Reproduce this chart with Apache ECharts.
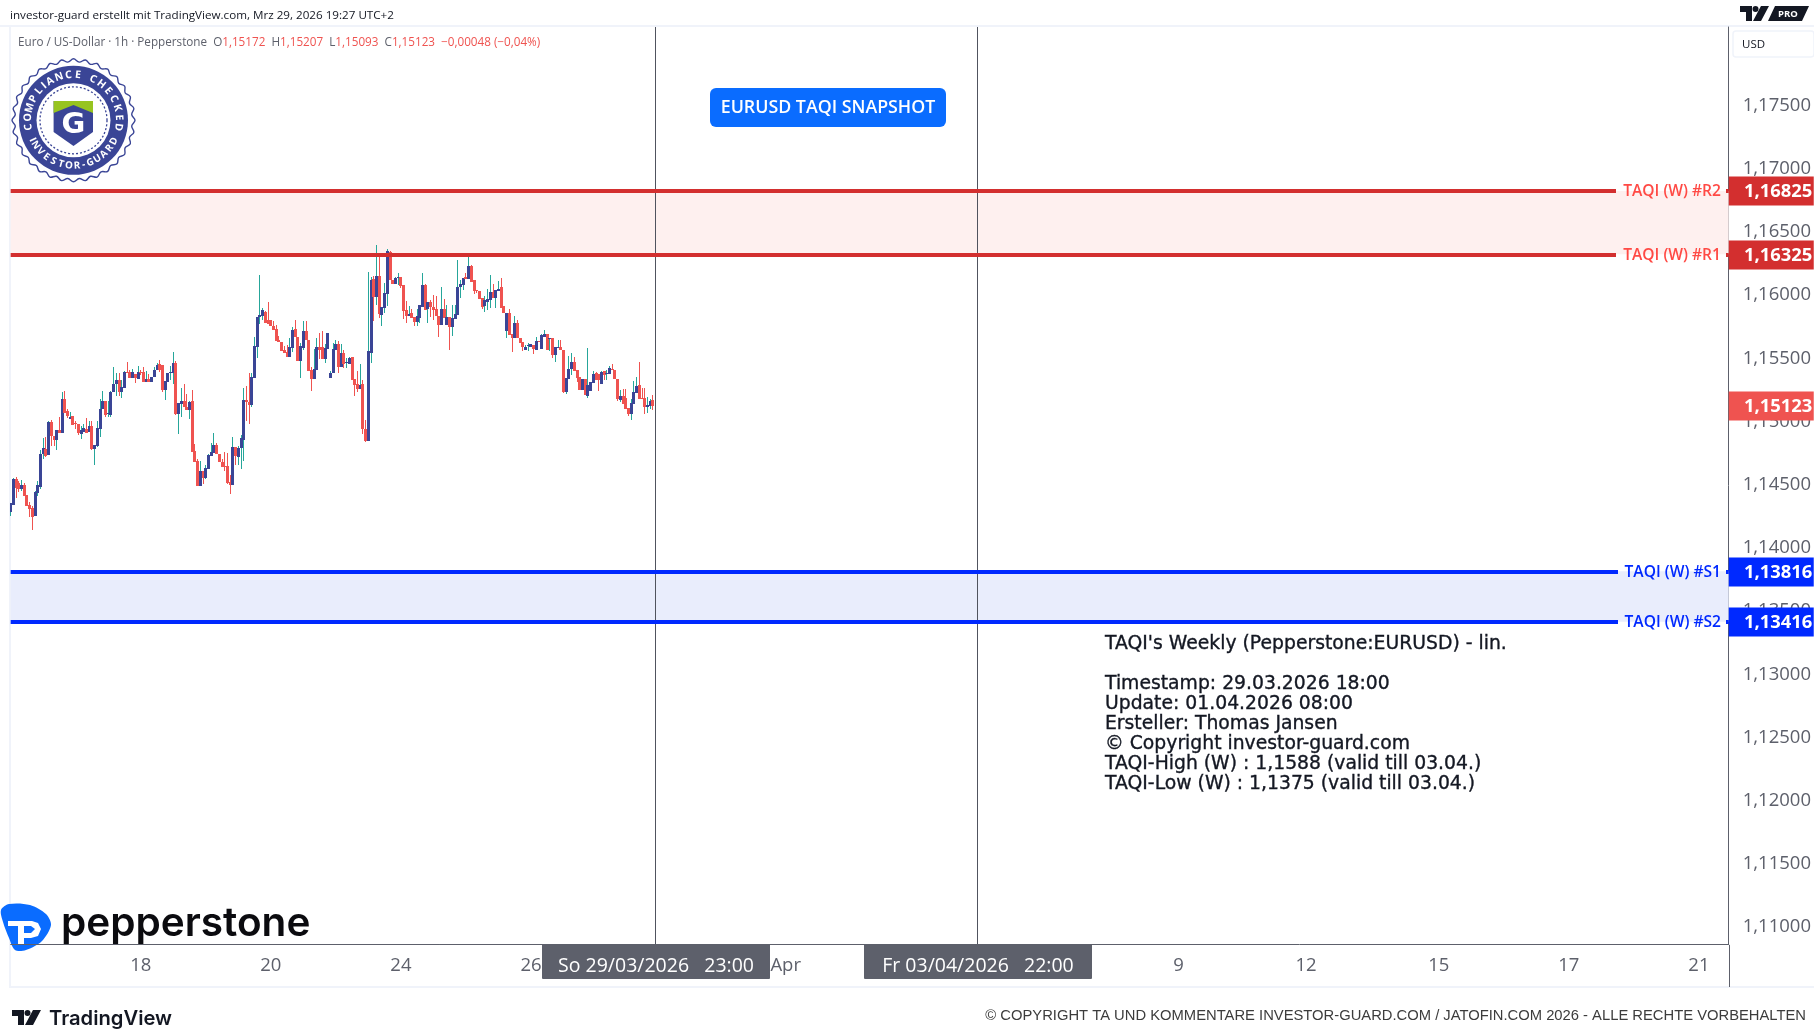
<!DOCTYPE html>
<html>
<head>
<meta charset="UTF-8">
<title>EURUSD TAQI Snapshot</title>
<script src="https://cdn.jsdelivr.net/npm/echarts@6/dist/echarts.min.js"></script>
<style>
	html,body{margin:0;padding:0;background:#fff;}
	#chart{width:1814px;height:1035px;}
</style>
</head>
<body>
<div id="chart"></div>
<script>
// stundenkerzen
var open = [1.14288,1.14343,1.14547,1.14512,1.14467,1.14499,1.14420,1.14341,1.14314,1.14256,1.14438,1.14486,1.14745,1.14784,1.14737,1.14998,1.14887,1.14855,1.14935,1.14913,1.15180,1.15080,1.15024,1.15045,1.14987,1.14979,1.14903,1.14921,1.14942,1.14921,1.14966,1.14784,1.14808,1.14942,1.15101,1.15164,1.15059,1.15053,1.15235,1.15299,1.15330,1.15235,1.15267,1.15394,1.15394,1.15346,1.15378,1.15338,1.15394,1.15394,1.15315,1.15338,1.15315,1.15354,1.15410,1.15457,1.15449,1.15251,1.15317,1.15381,1.15386,1.15465,1.15061,1.15140,1.15162,1.15119,1.15093,1.15164,1.14768,1.14689,1.14491,1.14610,1.14555,1.14623,1.14729,1.14755,1.14816,1.14745,1.14681,1.14650,1.14650,1.14520,1.14499,1.14800,1.14721,1.14792,1.14855,1.15172,1.15156,1.15132,1.15346,1.15592,1.15829,1.15837,1.15871,1.15805,1.15805,1.15758,1.15734,1.15647,1.15631,1.15568,1.15552,1.15513,1.15584,1.15734,1.15671,1.15481,1.15584,1.15718,1.15647,1.15410,1.15338,1.15410,1.15592,1.15592,1.15497,1.15576,1.15346,1.15386,1.15568,1.15616,
	1.15433,1.15544,1.15462,1.15457,1.15513,1.15338,1.15299,1.15259,1.15299,1.14942,1.14848,1.15544,1.16130,1.15988,1.16154,1.15845,1.15900,1.16011,1.16344,1.16122,1.16090,1.16138,1.16146,1.16083,1.15885,1.15837,1.15861,1.15829,1.15790,1.15821,1.15908,1.16083,1.15893,1.15948,1.15908,1.15893,1.15837,1.15766,1.15893,1.15766,1.15829,1.15750,1.15813,1.15845,1.16067,1.16083,1.16146,1.16130,1.16233,1.16122,1.16043,1.16035,1.15980,1.15916,1.15948,1.15964,1.16027,1.15980,1.16035,1.16067,1.15916,1.15718,1.15861,1.15695,1.15663,1.15782,1.15663,1.15631,1.15568,1.15600,1.15592,1.15608,1.15568,1.15639,1.15576,1.15671,1.15695,1.15663,1.15663,1.15528,1.15584,1.15592,1.15568,1.15235,1.15338,1.15418,1.15473,1.15410,1.15354,1.15251,1.15338,1.15204,1.15243,1.15307,1.15386,1.15378,1.15299,1.15402,1.15378,1.15378,1.15418,1.15410,1.15338,1.15172,1.15204,1.15188,1.15109,1.15061,1.15140,1.15228,1.15291,1.15188,1.15188,1.15117,1.15125,1.15172];
var close = [1.14354,1.14547,1.14473,1.14467,1.14499,1.14407,1.14333,1.14306,1.14248,1.14444,1.14499,1.14745,1.14789,1.14731,1.14998,1.14882,1.14855,1.14935,1.14908,1.15180,1.15067,1.15045,1.15040,1.14974,1.14979,1.14908,1.14935,1.14948,1.14913,1.14966,1.14784,1.14816,1.14948,1.15101,1.15164,1.15053,1.15067,1.15235,1.15299,1.15330,1.15235,1.15272,1.15394,1.15389,1.15346,1.15394,1.15344,1.15394,1.15381,1.15315,1.15338,1.15315,1.15354,1.15410,1.15449,1.15410,1.15251,1.15320,1.15386,1.15394,1.15465,1.15061,1.15146,1.15162,1.15114,1.15093,1.15156,1.14760,1.14681,1.14491,1.14610,1.14557,1.14634,1.14737,1.14760,1.14816,1.14742,1.14681,1.14642,1.14644,1.14512,1.14499,1.14800,1.14729,1.14792,1.14871,1.15172,1.15151,1.15132,1.15354,1.15600,1.15829,1.15845,1.15885,1.15784,1.15776,1.15753,1.15726,1.15639,1.15626,1.15560,1.15544,1.15513,1.15592,1.15726,1.15671,1.15478,1.15600,1.15718,1.15647,1.15402,1.15338,1.15418,1.15592,1.15568,1.15497,1.15584,1.15703,1.15386,1.15576,1.15616,1.15433,
	1.15544,1.15457,1.15473,1.15505,1.15330,1.15291,1.15259,1.15291,1.14942,1.14848,1.15560,1.16122,1.15988,1.16154,1.15853,1.15908,1.16019,1.16352,1.16122,1.16090,1.16138,1.16146,1.16075,1.15877,1.15837,1.15853,1.15821,1.15790,1.15837,1.15924,1.16083,1.15885,1.15948,1.15908,1.15885,1.15837,1.15766,1.15893,1.15821,1.15829,1.15750,1.15821,1.15853,1.16067,1.16090,1.16138,1.16127,1.16233,1.16106,1.16035,1.16035,1.15972,1.15906,1.15964,1.15972,1.16027,1.15980,1.16043,1.16051,1.15900,1.15861,1.15861,1.15687,1.15663,1.15782,1.15663,1.15623,1.15592,1.15592,1.15608,1.15616,1.15576,1.15639,1.15631,1.15687,1.15695,1.15568,1.15663,1.15528,1.15592,1.15592,1.15568,1.15235,1.15346,1.15418,1.15473,1.15402,1.15346,1.15251,1.15338,1.15212,1.15291,1.15315,1.15378,1.15330,1.15330,1.15394,1.15370,1.15386,1.15425,1.15410,1.15338,1.15180,1.15204,1.15140,1.15101,1.15061,1.15148,1.15235,1.15283,1.15180,1.15180,1.15117,1.15132,1.15164,1.15123];
var high = [1.14354,1.14552,1.14562,1.14526,1.14539,1.14512,1.14420,1.14367,1.14333,1.14452,1.14526,1.14776,1.14869,1.14877,1.15008,1.15014,1.14887,1.14935,1.15040,1.15233,1.15243,1.15101,1.15077,1.15045,1.15001,1.14979,1.14961,1.14979,1.15032,1.15001,1.15001,1.14816,1.15001,1.15180,1.15243,1.15164,1.15164,1.15243,1.15433,1.15383,1.15383,1.15330,1.15399,1.15473,1.15410,1.15418,1.15378,1.15441,1.15410,1.15433,1.15402,1.15375,1.15354,1.15428,1.15465,1.15489,1.15449,1.15320,1.15386,1.15441,1.15552,1.15481,1.15146,1.15267,1.15299,1.15220,1.15164,1.15251,1.14824,1.14705,1.14689,1.14610,1.14658,1.14745,1.14829,1.14911,1.14829,1.14745,1.14705,1.14760,1.14750,1.14578,1.14879,1.14800,1.14808,1.14895,1.15267,1.15283,1.15383,1.15383,1.15671,1.15829,1.16162,1.15900,1.15877,1.15948,1.15805,1.15798,1.15766,1.15679,1.15631,1.15600,1.15608,1.15663,1.15750,1.15805,1.15671,1.15623,1.15798,1.15798,1.15647,1.15433,1.15576,1.15663,1.15703,1.15718,1.15616,1.15703,1.15402,1.15623,1.15647,1.15639,
	1.15616,1.15568,1.15505,1.15515,1.15513,1.15338,1.15402,1.15457,1.15330,1.15014,1.16185,1.16146,1.16154,1.16399,1.16307,1.15908,1.16098,1.16368,1.16352,1.16122,1.16146,1.16178,1.16146,1.16083,1.15956,1.15916,1.15893,1.15829,1.15893,1.15924,1.16178,1.16090,1.15948,1.15964,1.16003,1.15995,1.15837,1.16067,1.15972,1.15924,1.15829,1.15924,1.15924,1.16280,1.16122,1.16138,1.16178,1.16304,1.16241,1.16122,1.16043,1.16035,1.15980,1.15995,1.16051,1.16162,1.16090,1.16043,1.16114,1.16138,1.15916,1.15861,1.15893,1.15695,1.15837,1.15805,1.15663,1.15631,1.15608,1.15623,1.15616,1.15608,1.15671,1.15639,1.15695,1.15726,1.15695,1.15663,1.15663,1.15592,1.15647,1.15647,1.15568,1.15346,1.15520,1.15544,1.15513,1.15410,1.15354,1.15338,1.15338,1.15584,1.15315,1.15402,1.15394,1.15378,1.15402,1.15402,1.15410,1.15441,1.15457,1.15410,1.15338,1.15251,1.15259,1.15259,1.15109,1.15180,1.15322,1.15354,1.15473,1.15267,1.15267,1.15196,1.15180,1.15207];
var low = [1.14256,1.14343,1.14399,1.14446,1.14452,1.14407,1.14328,1.14241,1.14138,1.14256,1.14407,1.14467,1.14705,1.14723,1.14737,1.14803,1.14803,1.14776,1.14908,1.14913,1.15067,1.15032,1.15024,1.14974,1.14942,1.14890,1.14863,1.14921,1.14913,1.14921,1.14776,1.14658,1.14795,1.14874,1.15101,1.15040,1.15040,1.15040,1.15235,1.15206,1.15204,1.15183,1.15267,1.15389,1.15341,1.15346,1.15309,1.15338,1.15370,1.15315,1.15315,1.15315,1.15315,1.15354,1.15410,1.15396,1.15233,1.15172,1.15317,1.15330,1.15299,1.15053,1.14903,1.15040,1.15114,1.15093,1.15022,1.14760,1.14681,1.14491,1.14491,1.14507,1.14547,1.14623,1.14729,1.14755,1.14742,1.14681,1.14642,1.14610,1.14507,1.14428,1.14499,1.14658,1.14658,1.14626,1.14689,1.15006,1.14982,1.15119,1.15346,1.15505,1.15774,1.15805,1.15784,1.15776,1.15753,1.15726,1.15639,1.15626,1.15560,1.15544,1.15513,1.15513,1.15552,1.15671,1.15478,1.15346,1.15568,1.15647,1.15402,1.15243,1.15338,1.15410,1.15497,1.15497,1.15465,1.15576,1.15346,1.15386,1.15568,1.15386,
	1.15433,1.15425,1.15425,1.15457,1.15330,1.15204,1.15235,1.15259,1.14903,1.14840,1.14848,1.15465,1.15798,1.15924,1.15821,1.15758,1.15861,1.15916,1.16122,1.16090,1.16090,1.16083,1.16059,1.15813,1.15782,1.15837,1.15821,1.15758,1.15758,1.15782,1.15908,1.15885,1.15782,1.15829,1.15805,1.15837,1.15671,1.15766,1.15821,1.15766,1.15568,1.15679,1.15813,1.15845,1.15980,1.16043,1.16127,1.16130,1.16106,1.16011,1.16017,1.15972,1.15893,1.15869,1.15885,1.15900,1.15980,1.15900,1.16035,1.15900,1.15861,1.15663,1.15687,1.15552,1.15663,1.15663,1.15623,1.15560,1.15568,1.15560,1.15592,1.15536,1.15568,1.15631,1.15576,1.15671,1.15568,1.15560,1.15505,1.15473,1.15584,1.15568,1.15228,1.15220,1.15338,1.15370,1.15402,1.15315,1.15251,1.15251,1.15212,1.15188,1.15243,1.15307,1.15330,1.15243,1.15299,1.15330,1.15330,1.15378,1.15410,1.15338,1.15164,1.15156,1.15140,1.15101,1.15045,1.15014,1.15140,1.15228,1.15180,1.15180,1.15061,1.15069,1.15101,1.15093];

var levelNames = ['TAQI (W) #R2','TAQI (W) #R1','TAQI (W) #S1','TAQI (W) #S2'];
var levelValues = [1.16825,1.16325,1.13816,1.13416];
var priceTicks = [1.11,1.115,1.12,1.125,1.13,1.135,1.14,1.145,1.15,1.155,1.16,1.165,1.17,1.175];
var timeTickBars = [48,96,144,192,286,431,478,527,575,623];
var timeTickLabels = ['18','20','24','26','Apr','9','12','15','17','21'];
var markerBars = [238,357];
var markerLabels = ['So 29/03/2026   23:00','Fr 03/04/2026   22:00'];
var lastPrice = 1.15123;

var NAVY = '#3a4596', RED = '#ef5350', TEAL = '#26a69a';
var LEVEL_RED = '#d32f2f', LABEL_RED = '#ff4a45', LEVEL_BLUE = '#0029ff';
var AXIS_GREY = '#5d606b', TEXT_GREY = '#5d606b';
var FONT = '"Open Sans", sans-serif';

function fmt(v){
	return v.toFixed(5).replace('.',',');
}

var candleData = open.map(function(o,i){ return [i,o,close[i],low[i],high[i]]; });
var levelData = levelValues.map(function(v,i){ return [0,v,i]; });
var markerData = markerBars.map(function(b,i){ return [b,i]; });

function renderCandle(params,api){
	var i = api.value(0), o = api.value(1), c = api.value(2), l = api.value(3), h = api.value(4);
	var cx = api.coord([i,o])[0];
	var yO = Math.round(api.coord([i,o])[1]), yC = Math.round(api.coord([i,c])[1]);
	var yL = Math.round(api.coord([i,l])[1]), yH = Math.round(api.coord([i,h])[1]);
	var up = c >= o;
	var x0 = Math.round(cx-1.5);
	return {type:'group',children:[
		{type:'rect',shape:{x:Math.floor(cx),y:yH,width:1,height:Math.max(1,yL-yH)},style:{fill:up?TEAL:RED}},
		{type:'rect',shape:{x:x0,y:Math.min(yO,yC),width:3,height:Math.max(1,Math.abs(yC-yO))},style:{fill:up?NAVY:RED}}
	]};
}

function renderZone(params,api){
	var idx = api.value(2);
	if(idx%2) return null;
	var cs = params.coordSys;
	var y0 = api.coord([0,levelValues[idx]])[1], y1 = api.coord([0,levelValues[idx+1]])[1];
	return {type:'rect',shape:{x:cs.x,y:y0,width:cs.width,height:y1-y0},style:{fill:idx==0?'#fef0ef':'#e9edfc'}};
}

function renderLevel(params,api){
	var idx = api.value(2), cs = params.coordSys;
	var isRed = idx<2;
	var col = isRed?LEVEL_RED:LEVEL_BLUE;
	var y = Math.round(api.coord([0,api.value(1)])[1]+0.45);
	var right = cs.x+cs.width;
	return {type:'group',children:[
		{type:'rect',shape:{x:cs.x,y:y-2,width:(isRed?1616:1618)-cs.x,height:4},style:{fill:col}},
		{type:'rect',shape:{x:1726,y:y-2,width:right-1726,height:4},style:{fill:col}},
		{type:'text',x:1721,y:y+1,style:{text:levelNames[idx],fill:isRed?LABEL_RED:LEVEL_BLUE,font:'600 15.6px '+FONT,textAlign:'right',textVerticalAlign:'middle'}},
		{type:'rect',shape:{x:right,y:y-14.5,width:85,height:29},style:{fill:col}},
		{type:'text',x:1744,y:y+1,style:{text:fmt(api.value(1)),fill:'#fff',font:'700 18.4px '+FONT,textVerticalAlign:'middle'}}
	]};
}

function renderMarker(params,api){
	var x = Math.round(api.coord([api.value(0),1.15])[0]), cs = params.coordSys;
	var bottom = cs.y+cs.height;
	return {type:'group',children:[
		{type:'rect',shape:{x:x-1,y:cs.y,width:1,height:cs.height},style:{fill:'#50535e'}},
		{type:'rect',shape:{x:x-114,y:bottom,width:228,height:35,r:1},style:{fill:'#5d606b'}},
		{type:'text',x:x,y:bottom+22,style:{text:markerLabels[api.value(1)],fill:'#fff',font:'500 19.5px '+FONT,textAlign:'center',textVerticalAlign:'middle'}}
	]};
}

function renderLast(params,api){
	var cs = params.coordSys, y = Math.round(api.coord([0,lastPrice])[1]+0.45);
	return {type:'group',children:[
		{type:'rect',shape:{x:cs.x+cs.width,y:y-14.5,width:85,height:29},style:{fill:RED}},
		{type:'text',x:1744,y:y+1,style:{text:fmt(lastPrice),fill:'#fff',font:'700 18.4px '+FONT,textVerticalAlign:'middle'}}
	]};
}

// siegel oben links
function arcText(str,cx,cy,r,step,fontSize,bottom){
	var weights = [], total = 0, els = [], run = 0;
	for(var i=0;i<str.length;i++){
		var w = str[i]=='I' ? 0.55 : (str[i]==' ' ? 0.6 : (str[i]=='-' ? 0.7 : 1));
		weights.push(w);
		total += w;
	}
	for(var j=0;j<str.length;j++){
		var d = (run+weights[j]/2-total/2)*step*Math.PI/180;
		run += weights[j];
		els.push({
			type:'text',
			x:cx+r*Math.sin(d),
			y:bottom ? cy+r*Math.cos(d) : cy-r*Math.cos(d),
			rotation:bottom ? d : -d,
			style:{text:str[j],fill:'#fff',font:'bold '+fontSize+'px "Open Sans"',textAlign:'center',textVerticalAlign:'middle'}
		});
	}
	return els;
}

function sealElements(){
	var cx = 73.5, cy = 120.3, els = [], pts = [], n = 64;
	for(var i=0;i<n;i++){
		var a = i/n*Math.PI*2, r = i%2 ? 58.5 : 61.5;
		pts.push([cx+r*Math.sin(a),cy-r*Math.cos(a)]);
	}
	els.push({type:'polygon',shape:{points:pts,smooth:0.4},style:{fill:'#fff',stroke:NAVY,lineWidth:1.4}});
	els.push({type:'circle',shape:{cx:cx,cy:cy,r:54.5},style:{fill:NAVY}});
	els.push({type:'circle',shape:{cx:cx,cy:cy,r:37},style:{fill:'#fff'}});
	els.push({type:'circle',shape:{cx:cx,cy:cy,r:33.5},style:{fill:'none',stroke:NAVY,lineWidth:1.3,lineDash:[2,2]}});
	els.push({type:'polygon',shape:{points:[[53.6,101],[93,101],[93,132],[73.5,146],[53.6,132]]},style:{fill:NAVY}});
	els.push({type:'polygon',shape:{points:[[53.6,101],[93,101],[93,113],[73.5,105],[53.6,113]]},style:{fill:'#97c41f'}});
	els.push({type:'text',x:cx,y:125,style:{text:'G',fill:'#fff',font:'bold 29px "DejaVu Sans"',textAlign:'center',textVerticalAlign:'middle'}});
	return els.concat(arcText('COMPLIANCE CHECKED',cx,cy,45.5,12.2,10.5,false),arcText('INVESTOR-GUARD',cx,cy,45.5,10.2,9.8,true));
}

function tvMark(x,y,k){
	return [
		{type:'polygon',shape:{points:[[x,y],[x+12*k,y],[x+12*k,y+15*k],[x+6*k,y+15*k],[x+6*k,y+6*k],[x,y+6*k]]},style:{fill:'#131722'}},
		{type:'circle',shape:{cx:x+15.5*k,cy:y+3*k,r:3*k},style:{fill:'#131722'}},
		{type:'polygon',shape:{points:[[x+21*k,y],[x+29*k,y],[x+21*k,y+15*k],[x+13*k,y+15*k]]},style:{fill:'#131722'}}
	];
}

var graphics = [
	{type:'rect',shape:{x:0,y:25,width:1814,height:2},style:{fill:'#f0f3fa'}},
	{type:'rect',shape:{x:9,y:25,width:2,height:962},style:{fill:'#f0f3fa'}},
	{type:'rect',shape:{x:9,y:986,width:1805,height:2},style:{fill:'#f0f3fa'}},
	{type:'rect',shape:{x:1729,y:945,width:1,height:42},style:{fill:AXIS_GREY}},
	{type:'text',x:10,y:16,style:{text:'investor-guard erstellt mit TradingView.com, Mrz 29, 2026 19:27 UTC+2',fill:'#131722',font:'11.65px '+FONT,textVerticalAlign:'middle'}},
	{type:'text',x:18,y:43,style:{
		text:'{g|Euro / US-Dollar · 1h · Pepperstone  O}{r|1,15172}{g|  H}{r|1,15207}{g|  L}{r|1,15093}{g|  C}{r|1,15123}{r|  −0,00048 (−0,04%)}',
		font:'11.7px '+FONT,textVerticalAlign:'middle',
		rich:{g:{fill:'#5d606b',font:'11.7px '+FONT},r:{fill:RED,font:'11.7px '+FONT}}
	}},
	{type:'rect',shape:{x:710,y:88,width:236,height:39,r:6},style:{fill:'#0a6cff'}},
	{type:'text',x:828,y:108,style:{text:'EURUSD TAQI SNAPSHOT',fill:'#fff',font:'600 17.8px '+FONT,textAlign:'center',textVerticalAlign:'middle'}},
	{type:'rect',shape:{x:1733,y:31,width:81,height:26,r:3},style:{fill:'#fff',stroke:'#f0f3fa',lineWidth:1.5}},
	{type:'text',x:1742,y:45,style:{text:'USD',fill:'#131722',font:'11.5px '+FONT,textVerticalAlign:'middle'}},
	{type:'polygon',shape:{points:[[1775,6],[1809,6],[1802,21],[1768,21]]},style:{fill:'#131722'}},
	{type:'text',x:1788,y:14,style:{text:'PRO',fill:'#fff',font:'bold 9.5px '+FONT,textAlign:'center',textVerticalAlign:'middle'}},
	{type:'text',x:1105,y:714,style:{
		text:"TAQI's Weekly (Pepperstone:EURUSD) - lin.\n\nTimestamp: 29.03.2026 18:00\nUpdate: 01.04.2026 08:00\nErsteller: Thomas Jansen\n© Copyright investor-guard.com\nTAQI-High (W) : 1,1588 (valid till 03.04.)\nTAQI-Low (W) : 1,1375 (valid till 03.04.)",
		fill:'#131722',stroke:'#131722',lineWidth:0.35,font:'18.8px "DejaVu Sans"',lineHeight:20,textVerticalAlign:'middle'
	}},
	// pepperstone
	{type:'polygon',shape:{points:[[1,910],[9,904],[30,905],[46,914],[51,925],[42,941],[26,950],[15,950],[9,938],[3,922]],smooth:0.3},style:{fill:'#0a6cff'}},
	{type:'polygon',shape:{points:[[8,921],[32,921],[38,923],[41,929],[38,936],[31,938],[24,938],[24,944],[18,944],[18,926],[8,926]]},style:{fill:'#fff'}},
	{type:'polygon',shape:{points:[[24,926],[31,926],[35,929],[31,933],[24,933]]},style:{fill:'#0a6cff'}},
	{type:'text',x:61,y:924,style:{text:'pepperstone',fill:'#0b0b0f',font:'600 40.5px Inter',textVerticalAlign:'middle'}},
	// fusszeile
	{type:'text',x:49,y:1019,style:{text:'TradingView',fill:'#131722',font:'600 20.2px Inter',textVerticalAlign:'middle'}},
	{type:'text',x:1806,y:1016,style:{text:'© COPYRIGHT TA UND KOMMENTARE INVESTOR-GUARD.COM / JATOFIN.COM 2026 - ALLE RECHTE VORBEHALTEN',fill:'#3c3c3c',font:'14.77px "Liberation Sans"',textAlign:'right',textVerticalAlign:'middle'}}
].concat(tvMark(12,1010,1),tvMark(1740,6,1),sealElements());

var chart = echarts.init(document.getElementById('chart'));
chart.setOption({
	animation:false,
	backgroundColor:'#fff',
	grid:{left:10.67,right:85,top:27,bottom:91},
	xAxis:{
		type:'value',min:0,max:634,
		splitLine:{show:false},axisTick:{show:false},
		axisLine:{show:true,onZero:false,lineStyle:{color:AXIS_GREY,width:1}},
		axisLabel:{
			customValues:timeTickBars,
			color:TEXT_GREY,fontSize:18.5,fontFamily:'Open Sans',margin:12,
			formatter:function(v){ return timeTickLabels[timeTickBars.indexOf(v)]; }
		}
	},
	yAxis:{
		type:'value',position:'right',min:1.10865,max:1.18123,scale:true,
		splitLine:{show:false},axisTick:{show:false},
		axisLine:{show:true,onZero:false,lineStyle:{color:AXIS_GREY,width:1}},
		axisLabel:{
			customValues:priceTicks,
			color:TEXT_GREY,fontSize:18.5,fontFamily:'Open Sans',margin:14,
			formatter:function(v){ return fmt(v); }
		}
	},
	graphic:{elements:graphics},
	series:[
		{type:'custom',name:'zones',z:1,data:levelData,renderItem:renderZone,silent:true},
		{type:'custom',name:'EURUSD',z:2,clip:true,data:candleData,renderItem:renderCandle,silent:true,
			encode:{x:0,y:[1,2,3,4]}},
		{type:'custom',name:'marker',z:4,data:markerData,renderItem:renderMarker,silent:true},
		{type:'custom',name:'levels',z:5,data:levelData,renderItem:renderLevel,silent:true},
		{type:'custom',name:'last',z:5,data:[[0,lastPrice]],renderItem:renderLast,silent:true}
	]
});
</script>
</body>
</html>
